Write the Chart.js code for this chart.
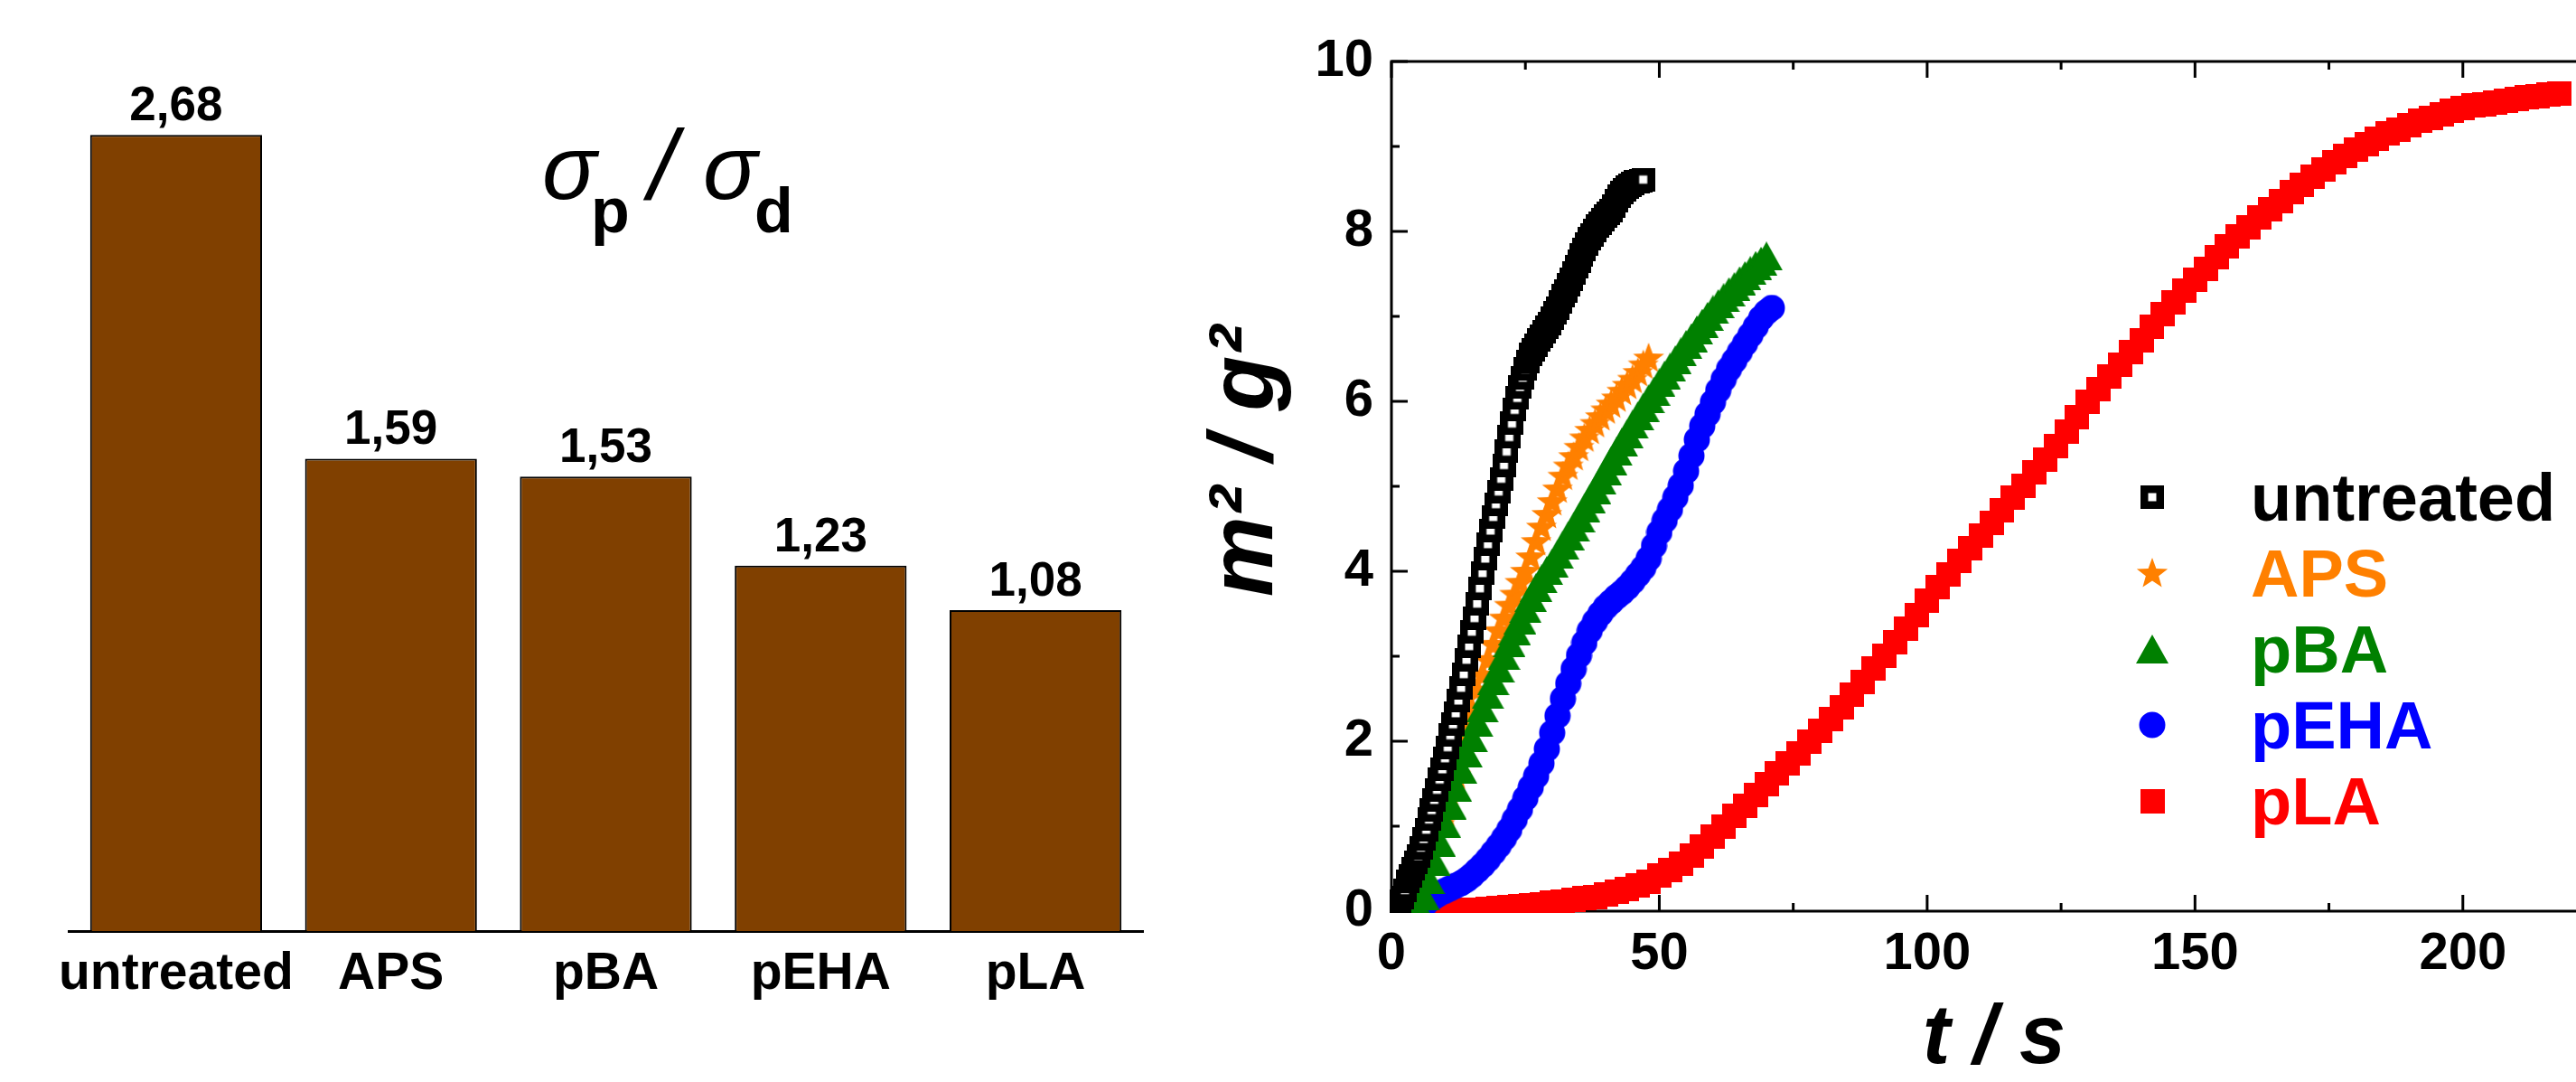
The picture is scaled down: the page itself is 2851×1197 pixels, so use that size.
<!DOCTYPE html>
<html>
<head>
<meta charset="utf-8">
<title>sigma ratio and sorption curves</title>
<script src="https://cdn.jsdelivr.net/npm/chart.js@4.4.1/dist/chart.umd.min.js"></script>
<style>
  html, body { margin: 0; padding: 0; background: #fff; overflow: hidden; }
  body { width: 2851px; height: 1197px; position: relative; }
  #barChart { position: absolute; left: 0; top: 0; }
  #kineticsChart { position: absolute; left: 1330px; top: 0; }
</style>
</head>
<body>
<canvas id="barChart" width="1320" height="1197"></canvas>
<canvas id="kineticsChart" width="1600" height="1197"></canvas>
<script>
(function () {
    "use strict";

    // bar chart: sigma_p / sigma_d
    var surfaceLabels = ['untreated', 'APS', 'pBA', 'pEHA', 'pLA'];
    var ratioValues = [2.68, 1.59, 1.53, 1.23, 1.08];

    // sorption curves, t in s, m^2 in g^2
    var untreatedT = [0, 0.5, 1, 1.5, 2, 2.5, 3, 3.5, 4, 4.5, 5, 5.5, 6, 6.5, 7, 7.5, 8, 8.5, 9, 9.5,
        10, 10.5, 11, 11.5, 12, 12.5, 13, 13.5, 14, 14.5, 15, 15.5, 16, 16.5, 17, 17.5, 18, 18.5, 19, 19.5,
        20, 20.5, 21, 21.5, 22, 22.5, 23, 23.5, 24, 24.5, 25, 25.5, 26, 26.5, 27, 27.5, 28, 28.5, 29, 29.5,
        30, 30.5, 31, 31.5, 32, 32.5, 33, 33.5, 34, 34.5, 35, 35.5, 36, 36.5, 37, 37.5, 38, 38.5, 39, 39.5,
        40, 40.5, 41, 41.5, 42, 42.5, 43, 43.5, 44, 44.5, 45, 45.5, 46, 46.5, 47];
    var untreatedM = [0.02, 0.05, 0.08, 0.12, 0.16, 0.25, 0.35, 0.42, 0.50, 0.57, 0.65, 0.75, 0.85, 0.96, 1.08, 1.19,
        1.31, 1.43, 1.55, 1.67, 1.80, 1.93, 2.07, 2.20, 2.33, 2.48, 2.63, 2.79, 2.96, 3.12, 3.29, 3.45,
        3.62, 3.80, 3.98, 4.15, 4.32, 4.48, 4.64, 4.79, 4.94, 5.09, 5.25, 5.41, 5.58, 5.74, 5.90, 6.04,
        6.17, 6.28, 6.38, 6.47, 6.55, 6.61, 6.66, 6.72, 6.77, 6.82, 6.87, 6.92, 6.98, 7.04, 7.10, 7.17,
        7.24, 7.30, 7.37, 7.44, 7.51, 7.58, 7.65, 7.72, 7.79, 7.85, 7.91, 7.96, 8.01, 8.06, 8.10, 8.14,
        8.18, 8.21, 8.25, 8.30, 8.36, 8.41, 8.46, 8.49, 8.52, 8.54, 8.56, 8.58, 8.59, 8.60, 8.61];

    var apsT = [3, 4, 5, 6, 7, 8, 9, 10, 11, 12, 13, 14, 15, 16, 17, 18, 19, 20, 21, 22, 23, 24, 25,
        26, 27, 28, 29, 30, 31, 32, 33, 34, 35, 36, 37, 38, 39, 40, 41, 42, 43, 44, 45, 46, 47, 48];
    var apsM = [0.08, 0.22, 0.38, 0.55, 0.70, 0.86, 1.02, 1.16, 1.34, 1.60, 1.88, 2.12, 2.37, 2.60, 2.78, 2.96,
        3.14, 3.30, 3.45, 3.60, 3.73, 3.87, 4.00, 4.17, 4.35, 4.52, 4.67, 4.82, 4.97, 5.12, 5.24, 5.35,
        5.46, 5.57, 5.66, 5.74, 5.82, 5.90, 5.97, 6.04, 6.12, 6.19, 6.26, 6.34, 6.43, 6.51];

    var pbaT = [5, 6, 7, 8, 9, 10, 11, 12, 13, 14, 15, 16, 17, 18, 19, 20, 21, 22, 23, 24, 25, 26, 27,
        28, 29, 30, 31, 32, 33, 34, 35, 36, 37, 38, 39, 40, 41, 42, 43, 44, 45, 46, 47, 48, 49, 50, 51,
        52, 53, 54, 55, 56, 57, 58, 59, 60, 61, 62, 63, 64, 65, 66, 67, 68, 69, 70];
    var pbaM = [0.05, 0.18, 0.37, 0.59, 0.81, 1.03, 1.25, 1.46, 1.67, 1.86, 2.04, 2.22, 2.39, 2.55, 2.71, 2.86,
        3.01, 3.16, 3.30, 3.43, 3.56, 3.69, 3.81, 3.91, 4.01, 4.10, 4.20, 4.31, 4.42, 4.52, 4.63, 4.74,
        4.85, 4.96, 5.07, 5.18, 5.30, 5.41, 5.52, 5.62, 5.73, 5.83, 5.93, 6.03, 6.12, 6.22, 6.31, 6.40,
        6.49, 6.58, 6.67, 6.75, 6.84, 6.92, 7.00, 7.08, 7.15, 7.22, 7.29, 7.35, 7.42, 7.48, 7.54, 7.60,
        7.65, 7.71];

    var pehaT = [6, 7, 8, 9, 10, 11, 12, 13, 14, 15, 16, 17, 18, 19, 20, 21, 22, 23, 24, 25, 26, 27, 28,
        29, 30, 31, 32, 33, 34, 35, 36, 37, 38, 39, 40, 41, 42, 43, 44, 45, 46, 47, 48, 49, 50, 51, 52,
        53, 54, 55, 56, 57, 58, 59, 60, 61, 62, 63, 64, 65, 66, 67, 68, 69, 70, 71];
    var pehaM = [0.06, 0.13, 0.17, 0.21, 0.24, 0.27, 0.30, 0.33, 0.37, 0.42, 0.48, 0.54, 0.61, 0.69, 0.77, 0.86,
        0.96, 1.08, 1.20, 1.33, 1.46, 1.59, 1.74, 1.91, 2.10, 2.30, 2.50, 2.68, 2.85, 3.01, 3.16, 3.30,
        3.41, 3.50, 3.58, 3.64, 3.70, 3.75, 3.81, 3.88, 3.96, 4.04, 4.15, 4.30, 4.46, 4.60, 4.73, 4.87,
        5.01, 5.18, 5.36, 5.55, 5.71, 5.85, 5.99, 6.13, 6.26, 6.38, 6.48, 6.58, 6.68, 6.78, 6.88, 6.98,
        7.05, 7.10];

    var plaT = [0, 2, 4, 6, 8, 10, 12, 14, 16, 18, 20, 22, 24, 26, 28, 30, 32, 34, 36, 38,
        40, 42, 44, 46, 48, 50, 52, 54, 56, 58, 60, 62, 64, 66, 68, 70, 72, 74, 76, 78,
        80, 82, 84, 86, 88, 90, 92, 94, 96, 98, 100, 102, 104, 106, 108, 110, 112, 114, 116, 118,
        120, 122, 124, 126, 128, 130, 132, 134, 136, 138, 140, 142, 144, 146, 148, 150, 152, 154, 156, 158,
        160, 162, 164, 166, 168, 170, 172, 174, 176, 178, 180, 182, 184, 186, 188, 190, 192, 194, 196, 198,
        200, 202, 204, 206, 208, 210, 212, 214, 216, 218];
    var plaM = [0.00, 0.00, 0.00, 0.00, 0.01, 0.01, 0.01, 0.02, 0.02, 0.03,
        0.04, 0.05, 0.06, 0.07, 0.08, 0.10, 0.11, 0.13, 0.15, 0.17,
        0.20, 0.23, 0.26, 0.30, 0.35, 0.42, 0.48, 0.56, 0.65, 0.76,
        0.88, 1.00, 1.12, 1.24, 1.37, 1.50, 1.62, 1.74, 1.86, 1.99,
        2.12, 2.26, 2.40, 2.55, 2.70, 2.86, 3.01, 3.16, 3.32, 3.48,
        3.65, 3.81, 3.96, 4.12, 4.27, 4.42, 4.57, 4.72, 4.87, 5.01,
        5.16, 5.31, 5.47, 5.64, 5.81, 5.99, 6.14, 6.29, 6.43, 6.58,
        6.72, 6.88, 7.03, 7.17, 7.30, 7.43, 7.56, 7.70, 7.82, 7.94,
        8.05, 8.16, 8.26, 8.36, 8.46, 8.55, 8.64, 8.73, 8.81, 8.89,
        8.96, 9.03, 9.09, 9.15, 9.20, 9.25, 9.30, 9.34, 9.38, 9.42,
        9.45, 9.48, 9.50, 9.52, 9.54, 9.56, 9.58, 9.59, 9.61, 9.62];

    var xTicks = [0, 50, 100, 150, 200];
    var xMinorTicks = [25, 75, 125, 175];
    var yTicks = [0, 2, 4, 6, 8, 10];
    var yMinorTicks = [1, 3, 5, 7, 9];

    var FONT = "'Liberation Sans', Arial, sans-serif";
    Chart.defaults.font.family = FONT;
    Chart.defaults.color = '#000';

    /*---- bar chart ----*/
    var barValueLabels = {
        id: 'barValueLabels',
        afterDatasetsDraw: function (chart) {
            var ctx = chart.ctx;
            ctx.save();
            ctx.font = 'bold 53px ' + FONT;
            ctx.fillStyle = '#000';
            ctx.textAlign = 'center';
            ctx.textBaseline = 'alphabetic';
            chart.getDatasetMeta(0).data.forEach(function (bar, i) {
                ctx.fillText(ratioValues[i].toFixed(2).replace('.', ','), bar.x, bar.y - 16);
            });
            ctx.restore();
        }
    };

    // sigma_p / sigma_d with subscripts
    var ratioTitle = {
        id: 'ratioTitle',
        afterDraw: function (chart) {
            var ctx = chart.ctx;
            var big = 'italic 100px ' + FONT;
            var sub = 'bold 70px ' + FONT;
            ctx.save();
            ctx.fillStyle = '#000';
            ctx.textBaseline = 'alphabetic';
            [['σ', big, 600, 220], ['p', sub, 654, 257], ['/', 'italic 110px ' + FONT, 718, 220],
             ['σ', big, 778, 220], ['d', sub, 835, 257]].forEach(function (p) {
                ctx.font = p[1];
                ctx.fillText(p[0], p[2], p[3]);
            });
            ctx.restore();
        }
    };

    new Chart(document.getElementById('barChart'), {
        type: 'bar',
        data: {
            labels: surfaceLabels,
            datasets: [{
                data: ratioValues,
                backgroundColor: '#804000',
                borderColor: '#000',
                borderWidth: 2,
                barPercentage: 0.8,
                categoryPercentage: 1
            }]
        },
        options: {
            responsive: false,
            animation: false,
            layout: { padding: { left: 76, right: 55, top: 44, bottom: 17 } },
            plugins: {
                legend: { display: false },
                tooltip: { enabled: false }
            },
            scales: {
                x: {
                    grid: { display: false, drawTicks: false },
                    border: { display: true, color: '#000', width: 3 },
                    ticks: {
                        color: '#000', padding: 14, autoSkip: false, maxRotation: 0, minRotation: 0,
                        font: { size: 57, weight: 'bold' }
                    },
                    afterFit: function (scale) { scale.height = 150; }
                },
                y: { display: false, min: 0, max: 3 }
            }
        },
        plugins: [barValueLabels, ratioTitle]
    });

    /*---- sorption curves ----*/
    function marker(w, h, draw) {
        var c = document.createElement('canvas');
        c.width = w;
        c.height = h;
        draw(c.getContext('2d'));
        return c;
    }
    var openSquare = marker(26, 26, function (ctx) {
        ctx.fillStyle = '#000';
        ctx.fillRect(0, 0, 26, 26);
        ctx.fillStyle = '#fff';
        ctx.fillRect(8.5, 8.5, 9, 9);
    });
    var star = marker(36, 36, function (ctx) {
        ctx.fillStyle = '#ff8000';
        ctx.beginPath();
        for (var i = 0; i < 10; i++) {
            var r = i % 2 ? 7.5 : 18;
            var a = -Math.PI / 2 + i * Math.PI / 5;
            ctx.lineTo(18 + r * Math.cos(a), 19 + r * Math.sin(a));
        }
        ctx.closePath();
        ctx.fill();
    });
    var triangle = marker(36, 32, function (ctx) {
        ctx.fillStyle = '#008000';
        ctx.beginPath();
        ctx.moveTo(18, 0);
        ctx.lineTo(36, 32);
        ctx.lineTo(0, 32);
        ctx.closePath();
        ctx.fill();
    });
    var circle = marker(30, 30, function (ctx) {
        ctx.fillStyle = '#0000ff';
        ctx.beginPath();
        ctx.arc(15, 15, 14.5, 0, Math.PI * 2);
        ctx.fill();
    });
    var square = marker(27, 27, function (ctx) {
        ctx.fillStyle = '#ff0000';
        ctx.fillRect(0, 0, 27, 27);
    });

    var seriesColors = ['#000000', '#ff8000', '#008000', '#0000ff', '#ff0000'];

    function points(ts, ms) {
        return ts.map(function (t, i) { return { x: t, y: ms[i] }; });
    }

    // frame with inward ticks on all four sides
    var frameTicks = {
        id: 'frameTicks',
        beforeDatasetsDraw: function (chart) {
            var a = chart.chartArea, xs = chart.scales.x, ys = chart.scales.y, ctx = chart.ctx;
            ctx.save();
            ctx.strokeStyle = '#000';
            ctx.lineWidth = 3;
            ctx.strokeRect(a.left, a.top, a.right - a.left, a.bottom - a.top);
            ctx.beginPath();
            function tx(v, len) {
                var px = xs.getPixelForValue(v);
                ctx.moveTo(px, a.bottom); ctx.lineTo(px, a.bottom - len);
                ctx.moveTo(px, a.top); ctx.lineTo(px, a.top + len);
            }
            function ty(v, len) {
                var py = ys.getPixelForValue(v);
                ctx.moveTo(a.left, py); ctx.lineTo(a.left + len, py);
                ctx.moveTo(a.right, py); ctx.lineTo(a.right - len, py);
            }
            xTicks.forEach(function (v) { tx(v, 18); });
            xMinorTicks.forEach(function (v) { tx(v, 9); });
            yTicks.forEach(function (v) { ty(v, 18); });
            yMinorTicks.forEach(function (v) { ty(v, 9); });
            ctx.stroke();
            ctx.restore();
        }
    };

    var markerLegend = {
        id: 'markerLegend',
        afterDraw: function (chart) {
            var a = chart.chartArea, ctx = chart.ctx;
            ctx.save();
            ctx.font = 'bold 74px ' + FONT;
            ctx.textBaseline = 'alphabetic';
            chart.data.datasets.forEach(function (ds, i) {
                var cy = a.top + 482 + i * 84;
                var img = ds.pointStyle;
                ctx.drawImage(img, a.left + 842 - img.width / 2, cy - img.height / 2);
                ctx.fillStyle = seriesColors[i];
                ctx.fillText(ds.label, a.left + 951, cy + 26);
            });
            ctx.restore();
        }
    };

    function series(label, ts, ms, style, order) {
        return {
            label: label,
            data: points(ts, ms),
            pointStyle: style,
            pointRadius: 13,
            showLine: false,
            clip: 2,
            order: order
        };
    }

    var tickFont = { size: 58, weight: 'bold' };

    new Chart(document.getElementById('kineticsChart'), {
        type: 'scatter',
        data: {
            datasets: [
                series('untreated', untreatedT, untreatedM, openSquare, 0),
                series('APS', apsT, apsM, star, 3),
                series('pBA', pbaT, pbaM, triangle, 1),
                series('pEHA', pehaT, pehaM, circle, 2),
                series('pLA', plaT, plaM, square, 4)
            ]
        },
        options: {
            responsive: false,
            animation: false,
            layout: { padding: { left: 0, top: 68, right: 56, bottom: 0 } },
            plugins: {
                legend: { display: false },
                tooltip: { enabled: false }
            },
            scales: {
                x: {
                    type: 'linear',
                    min: 0,
                    max: 225,
                    grid: { display: false, drawTicks: false },
                    border: { display: false },
                    afterBuildTicks: function (scale) {
                        scale.ticks = xTicks.map(function (v) { return { value: v }; });
                    },
                    ticks: { color: '#000', padding: 13, font: tickFont },
                    title: {
                        display: true, text: 't / s', color: '#000', padding: 0,
                        font: { size: 92, weight: 'bold', style: 'italic', lineHeight: 1 }
                    },
                    afterFit: function (scale) { scale.height = 189; }
                },
                y: {
                    type: 'linear',
                    min: 0,
                    max: 10,
                    grid: { display: false, drawTicks: false },
                    border: { display: false },
                    afterBuildTicks: function (scale) {
                        scale.ticks = yTicks.map(function (v) { return { value: v }; });
                    },
                    ticks: { color: '#000', padding: 20, font: tickFont },
                    title: {
                        display: true, text: '  m² / g²', color: '#000', padding: 0,
                        font: { size: 100, weight: 'bold', style: 'italic', lineHeight: 1 }
                    },
                    afterFit: function (scale) { scale.width = 210; }
                }
            }
        },
        plugins: [frameTicks, markerLegend]
    });
})();
</script>
</body>
</html>
